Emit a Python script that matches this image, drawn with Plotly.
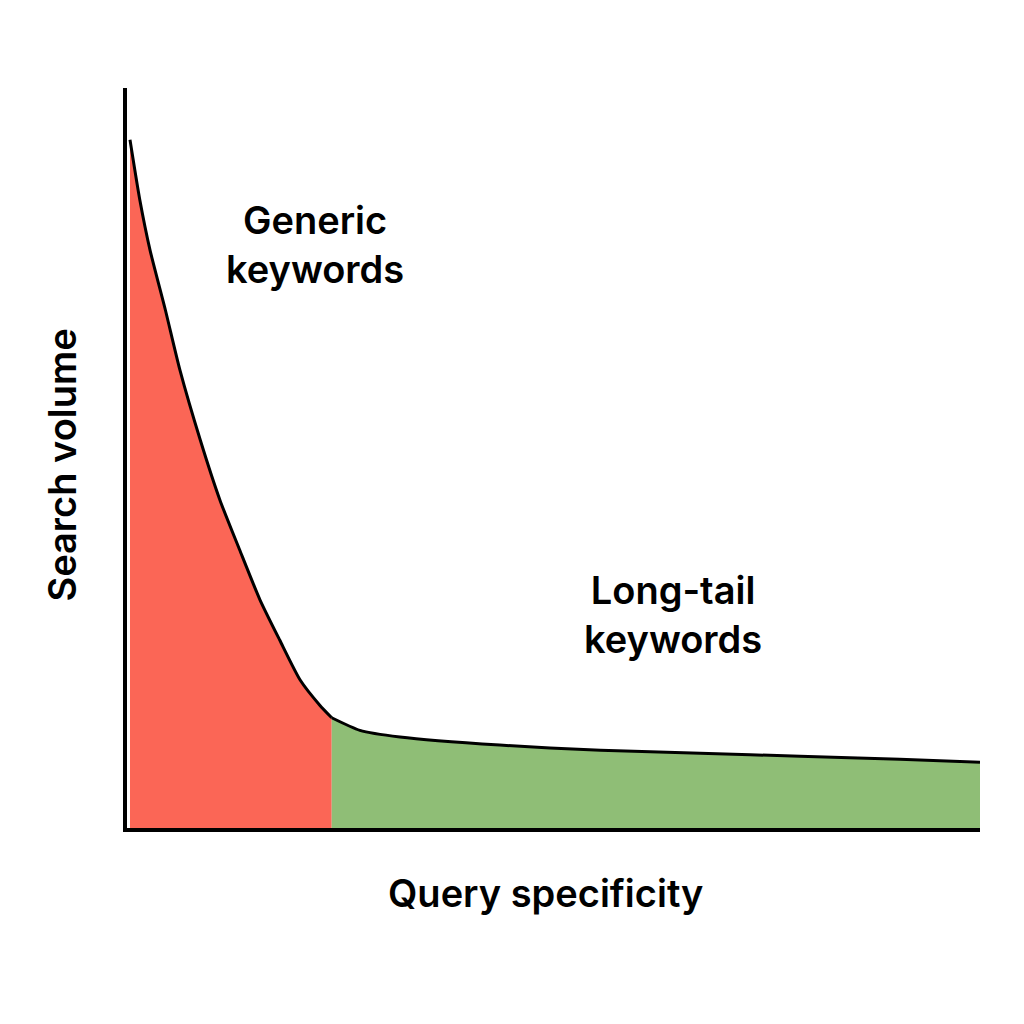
import plotly.graph_objects as go

# curve (x: specificity 0-100, y: volume 0-100)
head_x = [0.35, 1.5, 2.7, 4.5, 6.2, 8.6, 10.9, 13.2, 15.6, 17.9, 20.3, 22.6, 24.0]
head_y = [93.0, 84.9, 78.1, 70.0, 61.9, 52.4, 44.3, 37.6, 30.8, 25.4, 20.0, 16.6, 14.9]
tail_x = [24.0, 27.3, 32.0, 43.7, 55.5, 67.2, 78.9, 90.6, 100]
tail_y = [14.9, 13.2, 12.3, 11.2, 10.5, 10.1, 9.7, 9.3, 8.9]

font = "Inter"

fig = go.Figure()
fig.add_trace(go.Scatter(x=head_x, y=head_y, fill="tozeroy", mode="lines",
                         line=dict(color="black", width=3, shape="spline", smoothing=0.6),
                         fillcolor="#fb6656"))
fig.add_trace(go.Scatter(x=tail_x, y=tail_y, fill="tozeroy", mode="lines",
                         line=dict(color="black", width=3, shape="spline", smoothing=0.6),
                         fillcolor="#8fbe76"))

big = dict(family=font, size=38, color="black", weight=600)
for x, y, txt, ang in [(0.22, 0.788, "Generic<br>keywords", 0),
                       (0.64, 0.288, "Long-tail<br>keywords", 0),
                       (0.491, -0.088, "Query specificity", 0),
                       (-0.076, 0.49, "Search volume", -90)]:
    fig.add_annotation(x=x, y=y, xref="paper", yref="paper", showarrow=False,
                       xanchor="center", yanchor="middle",
                       text=txt, textangle=ang, font=big)

fig.update_layout(
    width=1008, height=1008,
    margin=dict(l=119, r=36, t=80, b=188),
    plot_bgcolor="white", paper_bgcolor="white",
    showlegend=False,
    xaxis=dict(range=[0, 100], showgrid=False, zeroline=False, showticklabels=False,
               showline=True, linecolor="black", linewidth=4, ticks=""),
    yaxis=dict(range=[0, 100], showgrid=False, zeroline=False, showticklabels=False,
               showline=True, linecolor="black", linewidth=4, ticks=""),
)

fig.write_html("out.html")
